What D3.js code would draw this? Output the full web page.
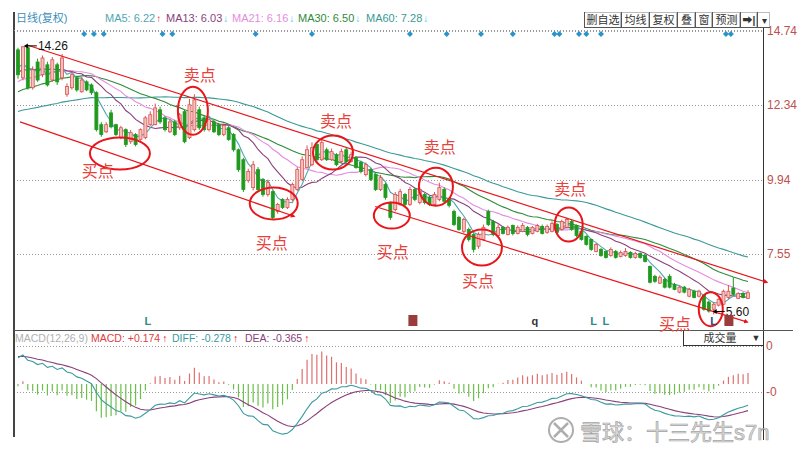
<!DOCTYPE html>
<html><head><meta charset="utf-8">
<script src="https://cdn.jsdelivr.net/npm/d3@7"></script>
<style>body{margin:0;background:#fff}svg{display:block}text{font-family:"Liberation Sans","Noto Sans CJK SC",sans-serif}</style>
</head><body><svg id="c" width="800" height="452"></svg>
<script>
// ---- data ----
const preClose = [11.2,11.4,11.3,11.6,11.5,11.7,11.4,11.6,11.5,11.3,11.6,11.5,11.7,11.4,11.6,11.5,11.7,
 11.4,11.6,11.3,11.5,11.6,11.4,11.7,11.5,11.3,11.6,11.5,11.4,11.7,11.5,
 12.0,11.8,12.1,11.9,12.2,12.0,11.9,12.1,12.3,
 12.4,12.5,12.7,12.5,12.6,12.8,12.6,12.8,
 13.0,13.2,13.1,13.4,13.3,13.5,13.4,13.6,
 13.5,13.7,13.6,13.6];
const open = [14.13,13.23,14.20,12.91,13.74,13.33,13.65,13.16,13.65,13.23,
 12.70,12.91,13.23,12.78,13.10,13.00,12.75,11.72,11.49,12.10,
 11.72,11.30,11.56,11.17,11.40,11.24,11.30,11.72,11.72,12.20,
 11.94,11.49,11.81,11.62,12.14,11.30,11.56,12.20,11.94,11.56,
 11.81,11.72,11.40,11.62,11.40,10.91,10.59,9.92,9.69,10.27,
 9.95,9.47,9.56,8.92,9.31,9.05,9.31,9.63,9.95,10.34,
 10.43,11.08,10.59,10.91,10.59,10.75,10.53,10.91,10.53,10.66,
 10.50,10.11,10.27,10.11,9.63,9.79,9.21,8.98,9.15,9.47,
 9.15,9.63,9.21,9.47,9.37,9.15,9.31,9.63,9.31,8.92,
 8.73,8.28,8.34,8.18,7.80,8.02,8.92,8.60,8.15,8.41,
 8.18,8.47,8.21,8.28,8.41,8.21,8.28,8.44,8.25,8.28,
 8.50,8.34,8.41,8.60,8.47,8.28,8.12,8.02,7.63,7.70,
 7.63,7.50,7.63,7.47,7.50,7.60,7.44,7.57,7.50,7.15,
 6.83,6.61,6.73,6.83,6.57,6.32,6.48,6.19,6.35,6.19,
 6.22,6.00,5.77,5.90,5.93,6.15,6.45,6.12,6.28,6.12];
const high = [14.20,14.26,14.26,13.60,13.85,13.95,13.75,13.90,13.72,14.00,
 13.05,13.45,13.30,13.25,13.15,13.05,12.80,11.80,11.80,12.20,
 11.75,11.68,11.60,11.55,11.45,11.60,12.00,12.15,12.40,12.30,
 12.00,11.90,11.88,12.10,12.20,12.55,12.70,12.30,12.00,11.95,
 11.88,11.78,11.75,11.68,11.45,10.95,10.65,10.30,10.55,10.35,
 10.00,9.95,9.60,9.20,9.35,9.38,9.85,10.35,10.70,11.05,
 11.15,11.15,11.25,10.98,10.95,10.80,10.95,10.98,10.85,10.70,
 10.55,10.50,10.32,10.15,10.10,9.85,9.25,9.55,9.65,9.52,
 9.72,9.68,9.70,9.52,9.42,9.55,9.85,9.70,9.35,8.98,
 8.78,8.72,8.40,8.22,8.25,8.50,8.98,8.65,8.50,8.45,
 8.47,8.50,8.47,8.55,8.45,8.45,8.52,8.50,8.50,8.60,
 8.55,8.66,8.72,8.66,8.50,8.32,8.15,8.05,7.90,7.74,
 7.66,7.76,7.68,7.66,7.74,7.64,7.62,7.60,7.55,7.18,
 6.88,6.86,6.78,6.90,6.62,6.52,6.52,6.46,6.40,6.40,
 6.25,6.05,5.98,6.12,6.40,6.55,6.80,6.32,6.32,6.38];
const low = [13.20,13.15,12.85,12.85,13.10,13.25,12.95,13.10,13.00,13.15,
 12.62,12.85,12.78,12.75,12.80,12.68,11.50,11.33,11.45,11.60,
 11.35,11.25,11.00,11.10,11.02,11.20,11.25,11.68,11.70,11.75,
 11.50,11.45,11.35,11.55,11.12,11.25,11.50,11.55,11.50,11.50,
 11.45,11.35,11.35,11.20,10.85,10.20,9.55,9.85,9.60,9.55,
 9.40,9.40,8.65,8.85,9.00,9.00,9.25,9.58,9.90,10.30,
 10.38,10.50,10.55,10.55,10.55,10.38,10.48,10.45,10.50,10.30,
 10.15,10.05,9.90,9.58,9.58,9.30,8.65,8.92,9.10,9.10,
 9.10,9.25,9.15,9.15,9.10,9.10,9.25,9.20,9.05,8.45,
 8.30,8.22,7.95,7.60,7.72,7.98,8.45,8.12,8.10,8.18,
 8.15,8.15,8.18,8.25,8.12,8.18,8.25,8.18,8.20,8.25,
 8.20,8.30,8.38,8.30,8.10,7.98,7.82,7.65,7.60,7.46,
 7.40,7.46,7.40,7.44,7.46,7.40,7.40,7.40,7.28,6.60,
 6.62,6.58,6.44,6.44,6.38,6.28,6.28,6.15,6.12,6.15,
 5.72,5.66,5.60,5.86,5.90,6.10,6.20,6.10,6.12,6.10];
const close = [13.33,14.23,12.91,13.49,13.16,13.87,13.00,13.81,13.10,13.87,
 12.95,13.33,12.84,13.16,12.84,12.75,11.56,11.40,11.72,11.65,
 11.40,11.62,11.08,11.46,11.08,11.56,11.94,12.04,12.26,11.81,
 11.56,11.81,11.40,12.04,11.17,12.36,12.52,11.62,11.56,11.88,
 11.49,11.40,11.69,11.24,10.91,10.27,9.63,10.21,10.43,9.63,
 9.47,9.85,8.73,9.15,9.05,9.31,9.79,10.27,10.59,10.91,
 10.98,10.59,11.14,10.59,10.85,10.43,10.85,10.53,10.75,10.34,
 10.21,10.43,9.95,9.63,10.01,9.37,8.73,9.47,9.56,9.15,
 9.63,9.31,9.63,9.21,9.15,9.47,9.69,9.25,9.12,8.50,
 8.34,8.66,8.02,7.70,8.18,8.41,8.50,8.18,8.41,8.21,
 8.41,8.21,8.41,8.47,8.18,8.41,8.47,8.21,8.44,8.53,
 8.25,8.60,8.66,8.34,8.15,8.02,7.86,7.70,7.86,7.50,
 7.44,7.70,7.44,7.60,7.63,7.44,7.57,7.44,7.31,6.64,
 6.67,6.80,6.48,6.48,6.41,6.48,6.32,6.41,6.15,6.35,
 5.77,5.71,5.93,6.09,6.35,6.35,6.25,6.28,6.15,6.30];
const priceTicks = [14.74, 12.34, 9.94, 7.55];
const maPeriods = [5, 13, 21, 30, 60];
const maColors = ["#4fa6b4", "#8a3f7d", "#e68be0", "#2f8a3a", "#3a9a95"];
const maLabels = ["MA5: 6.22", "MA13: 6.03", "MA21: 6.16", "MA30: 6.50", "MA60: 7.28"];
const maArrows = ["↑", "↓", "↓", "↓", "↓"];
const signalDays = [13.5,15.5,17.5,29.5,31.5,48.5,60,80,87.5,94.5,101,109.5,110.5,114.5,116,119,144.5,145.5];
const macdTickValues = [0.56, -0.12];
const macdTickLabels = ["0", "-0"];
// annotations in data coordinates (day index, price)
const channelLines = [[1.84,14.29,152.4,6.66],[0.41,11.81,55.9,8.79],[72.9,9.08,148.4,5.38]];
const circles = [[20.8,10.79,30,16],[35.7,12.17,15,24],[52.2,9.18,24,16],[64.3,10.82,20,17],[76.3,8.79,18,13],[85.3,9.72,17,19],[94.7,7.76,20,18],[112.4,8.50,14,17],[141.4,5.77,12,17]];
const notes = [["卖点",37.1,13.33],["买点",16.3,10.24],["买点",51.8,7.92],["卖点",64.9,11.85],["买点",76.5,7.60],["卖点",86.1,11.01],["买点",93.9,6.67],["卖点",112.7,9.66],["买点",134.1,5.29]];
const buttons = ["删自选","均线","复权","叠","窗","预测","➡|","▾"];
const buttonWidths = [36,27,27,17,16,27,16,12];

// ---- drawing ----
const svg = d3.select("#c");
const N = close.length;
const L = 14, R = 763;
const x = d3.scaleLinear().domain([0, N - 1]).range([18, 748]);
const y = d3.scaleLinear().domain([14.74, 7.55]).range([31, 254]);
const ym = d3.scaleLinear().domain([0, 1]).range([384, 316]);

const defs = svg.append("defs");
defs.append("clipPath").attr("id","mainclip").append("rect").attr("x",L).attr("y",29).attr("width",R-L).attr("height",300);
defs.append("clipPath").attr("id","macdclip").append("rect").attr("x",L).attr("y",333).attr("width",R-L).attr("height",104);
defs.append("marker").attr("id","arr").attr("viewBox","0 0 10 10").attr("refX",2).attr("refY",5)
  .attr("markerWidth",4).attr("markerHeight",4).attr("orient","auto")
  .append("path").attr("d","M0,0L10,5L0,10z").attr("fill","#e8161b");

// grid
svg.selectAll(".g").data(priceTicks).enter().append("line")
  .attr("x1",L).attr("x2",R).attr("y1",d=>Math.round(y(d))+0.5).attr("y2",d=>Math.round(y(d))+0.5)
  .attr("stroke","#999").attr("stroke-dasharray","1,2");
svg.selectAll(".pt").data(priceTicks).enter().append("text")
  .attr("x",767).attr("y",d=>y(d)+4).attr("font-size",12).attr("fill","#c0504d").text(d=>d.toFixed(2));
svg.selectAll(".mg").data(macdTickValues).enter().append("line")
  .attr("x1",L).attr("x2",R).attr("y1",d=>Math.round(ym(d))+0.5).attr("y2",d=>Math.round(ym(d))+0.5)
  .attr("stroke","#999").attr("stroke-dasharray","1,2");
svg.selectAll(".mt").data(macdTickValues).enter().append("text")
  .attr("x",766).attr("y",d=>ym(d)+4).attr("font-size",12).attr("fill","#c0504d").text((d,i)=>macdTickLabels[i]);

// axes frame
svg.append("line").attr("x1",L).attr("x2",L).attr("y1",12).attr("y2",437).attr("stroke","#444").attr("stroke-width",2);
svg.append("line").attr("x1",R+0.5).attr("x2",R+0.5).attr("y1",12).attr("y2",440).attr("stroke","#333");
svg.append("line").attr("x1",L).attr("x2",793).attr("y1",330.5).attr("y2",330.5).attr("stroke","#555");

// header
const hdr = svg.append("text").attr("y",22).attr("font-size",11);
hdr.append("tspan").attr("x",16).attr("fill","#3d8fb8").text("日线(复权)");
const mx = [105,166,232,298,366];
maLabels.forEach((t,i)=>{
  hdr.append("tspan").attr("x",mx[i]).attr("fill",maColors[i]).text(t);
  hdr.append("tspan").attr("dx",1).attr("fill", i===0?"#e8161b":"#3cc8e8").attr("font-size",10).attr("font-weight","bold").text(maArrows[i]);
});
svg.append("line").attr("x1",L).attr("x2",R).attr("y1",30.5).attr("y2",30.5).attr("stroke","#999").attr("stroke-dasharray","1,2");
svg.selectAll(".dm").data(signalDays).enter().append("path")
  .attr("d",d=>`M${x(d)},31L${x(d)+3},34L${x(d)},37L${x(d)-3},34z`).attr("fill","#2a93c8");

// buttons
let bx = 584;
buttons.forEach((b,i)=>{
  const w = buttonWidths[i];
  svg.append("rect").attr("x",bx+0.5).attr("y",12.5).attr("width",w).attr("height",15).attr("fill","#fff").attr("stroke","#bbb");
  svg.append("line").attr("x1",bx+0.5).attr("x2",bx+0.5).attr("y1",12).attr("y2",28).attr("stroke","#555");
  svg.append("line").attr("x1",bx).attr("x2",bx+w+1).attr("y1",27.5).attr("y2",27.5).attr("stroke","#555");
  svg.append("text").attr("x",bx+w/2+1).attr("y",24).attr("text-anchor","middle").attr("font-size",i>=6?10:11)
    .attr("font-weight",i===6?"bold":"normal").attr("fill","#333").text(b);
  bx += w + 1;
});

// MA lines
const main = svg.append("g").attr("clip-path","url(#mainclip)");
const all = preClose.concat(close);
const P = preClose.length;
function sma(p){ return close.map((_,i)=>d3.mean(all.slice(i+P-p+1,i+P+1))); }
const line = d3.line().x((d,i)=>x(i)).y(d=>y(d));
maPeriods.slice().reverse().forEach((p,k)=>{
  const idx = maPeriods.length-1-k;
  main.append("path").datum(sma(p)).attr("d",line).attr("fill","none").attr("stroke",maColors[idx]).attr("stroke-width",1.1);
});

// candles
const cg = main.selectAll(".cd").data(close.map((c,i)=>({i,o:open[i],h:high[i],l:low[i],c}))).enter().append("g");
cg.append("line").attr("x1",d=>x(d.i)).attr("x2",d=>x(d.i)).attr("y1",d=>y(d.h)).attr("y2",d=>y(d.l))
  .attr("stroke",d=>d.c>=d.o?"#d9534f":"#1f9a1f");
cg.append("rect").attr("x",d=>x(d.i)-1.5).attr("width",3)
  .attr("y",d=>y(Math.max(d.o,d.c))).attr("height",d=>Math.max(1,Math.abs(y(d.o)-y(d.c))))
  .attr("fill",d=>d.c>=d.o?"#f5c2c0":"#1f9a1f").attr("stroke",d=>d.c>=d.o?"#d9534f":"#1f9a1f").attr("stroke-width",0.8);

// channel lines, circles, notes
svg.selectAll(".ch").data(channelLines).enter().append("line")
  .attr("x1",d=>x(d[0])).attr("y1",d=>y(d[1])).attr("x2",d=>x(d[2])).attr("y2",d=>y(d[3]))
  .attr("stroke","#e8161b").attr("stroke-width",1.2).attr("marker-end","url(#arr)");
svg.selectAll(".ci").data(circles).enter().append("ellipse")
  .attr("cx",d=>x(d[0])).attr("cy",d=>y(d[1])).attr("rx",d=>d[2]).attr("ry",d=>d[3])
  .attr("fill","none").attr("stroke","#e8161b").attr("stroke-width",2);
svg.selectAll(".nt").data(notes).enter().append("text")
  .attr("x",d=>x(d[1])).attr("y",d=>y(d[2])+6).attr("text-anchor","middle")
  .attr("font-family","Noto Sans CJK SC").attr("font-size",16).attr("fill","#e8403a").text(d=>d[0]);

// high / low annotations
const hiI = d3.maxIndex(high), loI = d3.minIndex(low);
svg.append("line").attr("x1",x(hiI)+2).attr("x2",x(hiI)+14).attr("y1",y(high[hiI])).attr("y2",y(high[hiI])).attr("stroke","#000");
svg.append("path").attr("d",`M${x(hiI)+1},${y(high[hiI])}l4,-2.5v5z`).attr("fill","#000");
svg.append("text").attr("x",x(hiI)+15).attr("y",y(high[hiI])+4).attr("font-size",12).attr("fill","#111").text(high[hiI].toFixed(2));
svg.append("line").attr("x1",x(loI)).attr("x2",x(loI)+11).attr("y1",y(low[loI])-3).attr("y2",y(low[loI])-3).attr("stroke","#000");
svg.append("path").attr("d",`M${x(loI)-1},${y(low[loI])-3}l4,-2.5v5z`).attr("fill","#000");
svg.append("text").attr("x",x(loI)+12).attr("y",y(low[loI])+2).attr("font-size",12).attr("fill","#111").text(low[loI].toFixed(2));

// bottom markers
const markers = [["L",26.5,"#2f8a8a"],["q",105.5,"#333"],["L",117.5,"#2f8a8a"],["L",120,"#2f8a8a"],["L",142,"#2a4a8a"]];
svg.selectAll(".mk").data(markers).enter().append("text").attr("x",d=>x(d[1])).attr("y",325).attr("text-anchor","middle")
  .attr("font-size",11).attr("font-weight","bold").attr("fill",d=>d[2]).text(d=>d[0]);
[80.5,145].forEach(d=>{
  svg.append("rect").attr("x",x(d)-4).attr("y",315).attr("width",9).attr("height",11).attr("fill","#9b3b3b");
});

// 成交量 box
svg.append("rect").attr("x",683).attr("y",331).attr("width",80).attr("height",14).attr("fill","#fff");
svg.append("line").attr("x1",683.5).attr("x2",683.5).attr("y1",331).attr("y2",345).attr("stroke","#333");
svg.append("line").attr("x1",683).attr("x2",763).attr("y1",345.5).attr("y2",345.5).attr("stroke","#333");
svg.append("text").attr("x",720).attr("y",342).attr("text-anchor","middle").attr("font-size",11).attr("fill","#333").text("成交量");
svg.append("text").attr("x",756).attr("y",341).attr("text-anchor","middle").attr("font-size",9).attr("fill","#333").text("▼");

// MACD
const a12 = 2/13, a26 = 2/27, a9 = 2/10;
let e12 = all[0], e26 = all[0], dea = 0;
const diffA = [], deaA = [], macdA = [];
all.forEach(v=>{ e12 += a12*(v-e12); e26 += a26*(v-e26); const df = e12-e26; dea += a9*(df-dea);
  diffA.push(df); deaA.push(dea); macdA.push(2*(df-dea)); });
const diff = diffA.slice(P), deaV = deaA.slice(P), macd = macdA.slice(P);
const mg = svg.append("g").attr("clip-path","url(#macdclip)");
mg.selectAll(".hb").data(macd).enter().append("line")
  .attr("x1",(d,i)=>x(i)).attr("x2",(d,i)=>x(i)).attr("y1",ym(0)).attr("y2",d=>ym(d))
  .attr("stroke",d=>d>=0?"#e07070":"#6cbf4a").attr("stroke-width",1.2);
const ml = d3.line().x((d,i)=>x(i)).y(d=>ym(d));
mg.append("path").datum(deaV).attr("d",ml).attr("fill","none").attr("stroke","#8a3f7d").attr("stroke-width",1.1);
mg.append("path").datum(diff).attr("d",ml).attr("fill","none").attr("stroke","#3a9aa0").attr("stroke-width",1.1);

const mh = svg.append("text").attr("y",342).attr("font-size",10.5);
mh.append("tspan").attr("x",15).attr("fill","#b0b0b0").text("MACD(12,26,9)");
mh.append("tspan").attr("x",91).attr("fill","#e04040").text("MACD: +0.174");
mh.append("tspan").attr("dx",2).attr("fill","#e8161b").attr("font-weight","bold").text("↑");
mh.append("tspan").attr("x",172).attr("fill","#3a9aa0").text("DIFF: -0.278");
mh.append("tspan").attr("dx",2).attr("fill","#e8161b").attr("font-weight","bold").text("↑");
mh.append("tspan").attr("x",245).attr("fill","#8a3f7d").text("DEA: -0.365");
mh.append("tspan").attr("dx",2).attr("fill","#e8161b").attr("font-weight","bold").text("↑");

// watermark
const wm = svg.append("g").attr("opacity",0.8);
wm.append("circle").attr("cx",561).attr("cy",430).attr("r",12).attr("fill","none").attr("stroke","#9a9a9a").attr("stroke-width",2);
wm.append("path").attr("d","M554,423L568,437M568,423L554,437").attr("stroke","#9a9a9a").attr("stroke-width",2.5);
wm.append("text").attr("x",580).attr("y",440).attr("font-family","Noto Sans CJK SC").attr("font-size",22)
  .attr("fill","#d4d4d4").attr("stroke","#8f8f8f").attr("stroke-width",0.7).text("雪球：十三先生s7n");
</script></body></html>
